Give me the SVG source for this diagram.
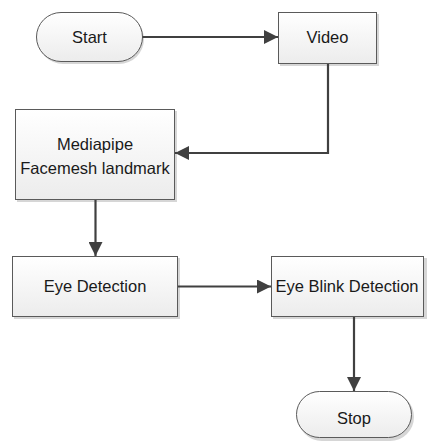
<svg xmlns="http://www.w3.org/2000/svg" width="427" height="441" viewBox="0 0 427 441">
<style>
.n{fill:url(#g);stroke:#5a5a5a;stroke-width:1}
.s{fill:#d6d6d6}
.t{font-family:"Liberation Sans",Arial,sans-serif;font-size:16.5px;fill:#1a1a1a;text-anchor:middle}
.c{stroke:#404040;stroke-width:2.2;fill:none}
</style>
<defs>
<linearGradient id="g" x1="0" y1="0" x2="0" y2="1">
<stop offset="0" stop-color="#ffffff"/>
<stop offset="1" stop-color="#ececec"/>
</linearGradient>
<marker id="a" viewBox="0 0 10 10" refX="10" refY="5" markerWidth="15" markerHeight="14" markerUnits="userSpaceOnUse" orient="auto">
<path d="M0,0 L10,5 L0,10 z" fill="#404040"/>
</marker>
</defs>
<g id="start">
<rect class="s" x="38" y="14" width="106" height="50" rx="25"/>
<rect class="n" x="36.5" y="12.5" width="106" height="49" rx="24.5"/>
<text class="t" x="89.5" y="43">Start</text>
</g>
<g id="video">
<rect class="s" x="280" y="14" width="99" height="52"/>
<rect class="n" x="278.5" y="12.5" width="98" height="51"/>
<text class="t" x="327.5" y="43">Video</text>
</g>
<g id="mediapipe">
<rect class="s" x="17" y="111" width="160" height="91"/>
<rect class="n" x="15.5" y="109.5" width="159" height="90"/>
<text class="t" x="95" y="150">Mediapipe</text>
<text class="t" x="95" y="174">Facemesh landmark</text>
</g>
<g id="eyedet">
<rect class="s" x="14" y="258" width="166" height="61"/>
<rect class="n" x="12.5" y="256.5" width="165" height="60"/>
<text class="t" x="95" y="292">Eye Detection</text>
</g>
<g id="blink">
<rect class="s" x="273" y="258" width="154" height="61"/>
<rect class="n" x="271.5" y="256.5" width="152" height="60"/>
<text class="t" x="347" y="292">Eye Blink Detection</text>
</g>
<g id="stop">
<rect class="s" x="298" y="393" width="116" height="48" rx="24"/>
<rect class="n" x="296.5" y="391.5" width="115" height="46" rx="23"/>
<text class="t" x="354" y="424">Stop</text>
</g>
<g id="connectors">
<path class="c" d="M142.5,37 H278" marker-end="url(#a)"/>
<path class="c" d="M328,64 V153 H175" marker-end="url(#a)"/>
<path class="c" d="M95.5,200 V256" marker-end="url(#a)"/>
<path class="c" d="M178,286.5 H271" marker-end="url(#a)"/>
<path class="c" d="M354,317 V391" marker-end="url(#a)"/>
</g>
</svg>
